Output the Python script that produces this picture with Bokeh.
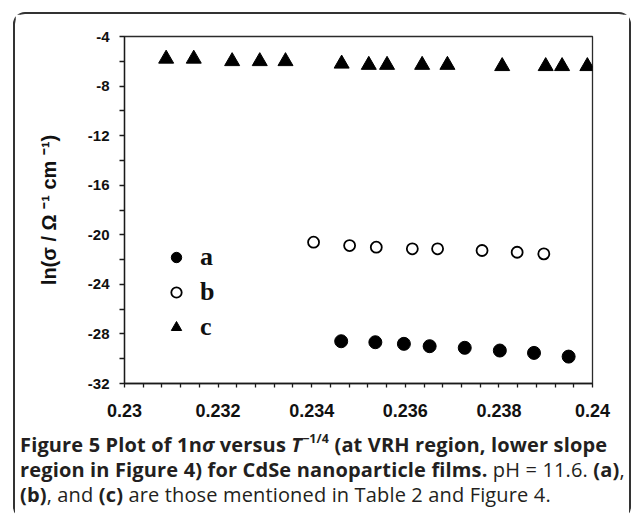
from bokeh.plotting import figure
from bokeh.layouts import column, row
from bokeh.models import (FixedTicker, Legend, LegendItem, Range1d, Spacer, Div)
from bokeh.embed import file_html
from bokeh.resources import INLINE

# ---------------- data ----------------
a_x = [0.23463, 0.23536, 0.23597, 0.23652, 0.23727, 0.23802, 0.23875, 0.23949]
a_y = [-28.59, -28.67, -28.80, -28.99, -29.12, -29.34, -29.53, -29.83]

b_x = [0.23404, 0.23481, 0.23538, 0.23615, 0.23669, 0.23764, 0.23839, 0.23896]
b_y = [-20.60, -20.87, -21.00, -21.13, -21.13, -21.27, -21.41, -21.54]

c_x = [0.23089, 0.23148, 0.23230, 0.23289, 0.23344, 0.23464, 0.23522, 0.23561,
       0.23636, 0.23690, 0.23807, 0.23900, 0.23935, 0.23989]
c_y = [-5.8, -5.8, -6.0, -6.0, -6.0, -6.2, -6.3, -6.3, -6.3, -6.3, -6.4, -6.4, -6.4, -6.4]

series_labels = ["a", "b", "c"]

x_ticks = [0.230, 0.232, 0.234, 0.236, 0.238, 0.240]
x_tick_labels = ["0.23", "0.232", "0.234", "0.236", "0.238", "0.24"]
x_minor_ticks = [0.2304, 0.2308, 0.2312, 0.2316, 0.2324, 0.2328, 0.2332, 0.2336,
                 0.2344, 0.2348, 0.2352, 0.2356, 0.2364, 0.2368, 0.2372, 0.2376,
                 0.2384, 0.2388, 0.2392, 0.2396]
y_ticks = [-32, -28, -24, -20, -16, -12, -8, -4]
y_tick_labels = ["-32", "-28", "-24", "-20", "-16", "-12", "-8", "-4"]
y_minor_ticks = [-30, -26, -22, -18, -14, -10, -6]

y_label = "ln(σ / Ω ⁻¹ cm ⁻¹)"

caption_lines = [
    [("Figure 5 Plot of 1n", "bold", False), ("σ", "bold italic", False), (" versus ", "bold", False),
     ("T", "bold italic", False), ("−1/4", "bold", True), (" (at VRH region, lower slope", "bold", False)],
    [("region in Figure 4) for CdSe nanoparticle films.", "bold", False), (" pH = 11.6. ", "normal", False),
     ("(a)", "bold", False), (",", "normal", False)],
    [("(b)", "bold", False), (", and ", "normal", False), ("(c)", "bold", False),
     (" are those mentioned in Table 2 and Figure 4.", "normal", False)],
]

# ---------------- main chart ----------------
W = 614
H_MAIN, H_CAP = 416, 87
p = figure(width=W, height=H_MAIN, x_range=Range1d(0.23, 0.24), y_range=Range1d(-32, -4),
           output_backend="svg", toolbar_location=None,
           min_border_left=109, min_border_right=37, min_border_top=22, min_border_bottom=47)
p.background_fill_color = "white"
p.border_fill_color = "white"
p.xgrid.visible = False
p.ygrid.visible = False
p.outline_line_color = "#2b2b2b"
p.outline_line_width = 1.3

ra = p.scatter(a_x, a_y, marker="circle", size=13, fill_color="black", line_color="black")
rb = p.scatter(b_x, b_y, marker="circle", size=11, fill_color="white", line_color="black", line_width=1.8)
rc = p.scatter(c_x, c_y, marker="triangle", size=15, fill_color="black", line_color="black")

xa = p.xaxis[0]
xa.ticker = FixedTicker(ticks=x_ticks, minor_ticks=x_minor_ticks)
xa.major_label_overrides = dict(zip(x_ticks, x_tick_labels))
xa.major_label_text_font = "Liberation Sans"
xa.major_label_text_font_style = "bold"
xa.major_label_text_font_size = "18px"
xa.major_label_text_color = "#111111"
xa.major_label_standoff = 16
xa.major_tick_out = 4
xa.major_tick_in = 0
xa.minor_tick_out = 4
xa.minor_tick_in = 0
xa.axis_line_color = "#1a1a1a"
xa.axis_line_width = 1.3
xa.major_tick_line_color = "#1a1a1a"
xa.minor_tick_line_color = "#1a1a1a"
xa.major_tick_line_width = 1.3
xa.minor_tick_line_width = 1.3

ya = p.yaxis[0]
ya.ticker = FixedTicker(ticks=y_ticks, minor_ticks=y_minor_ticks)
ya.major_label_overrides = dict(zip(y_ticks, y_tick_labels))
ya.major_label_text_font = "Liberation Sans"
ya.major_label_text_font_style = "bold"
ya.major_label_text_font_size = "15px"
ya.major_label_text_color = "#111111"
ya.major_label_standoff = 10
ya.major_tick_out = 5
ya.major_tick_in = 0
ya.minor_tick_out = 5
ya.minor_tick_in = 0
ya.axis_line_color = "#1a1a1a"
ya.axis_line_width = 1.3
ya.major_tick_line_color = "#1a1a1a"
ya.minor_tick_line_color = "#1a1a1a"
ya.major_tick_line_width = 1.3
ya.minor_tick_line_width = 1.3
ya.axis_label = y_label
ya.axis_label_text_font = "Liberation Sans"
ya.axis_label_text_font_style = "bold"
ya.axis_label_text_font_size = "20px"
ya.axis_label_text_color = "#111111"
ya.axis_label_standoff = 25

legend = Legend(items=[LegendItem(label=series_labels[0], renderers=[ra]),
                       LegendItem(label=series_labels[1], renderers=[rb]),
                       LegendItem(label=series_labels[2], renderers=[rc])],
                location=(39, 41), margin=0, padding=4, spacing=5,
                glyph_width=26, glyph_height=26, label_height=30, label_standoff=11,
                label_text_font="Liberation Serif", label_text_font_style="bold",
                label_text_font_size="26px", label_text_color="#111111",
                background_fill_color="white", background_fill_alpha=1.0,
                border_line_color=None)
p.add_layout(legend)

# ---------------- caption (HTML text below the chart) ----------------
CAP_FONT = "Open Sans"
cap_size = 20


def run_html(text, style, sup):
    t = text
    if sup:
        t = f'<sup style="font-size:62%;line-height:0;vertical-align:0.75em">{t}</sup>'
    if "italic" in style:
        t = f"<i>{t}</i>"
    if "bold" in style:
        t = f"<b>{t}</b>"
    return t


lines_html = ["".join(run_html(t, s, sup) for t, s, sup in line) for line in caption_lines]
cap_html = (f'<div style="font-family:\'{CAP_FONT}\';font-size:{cap_size}px;line-height:25px;'
            f'letter-spacing:0.15px;color:#231f20;white-space:pre;padding-left:5px;padding-top:2px;margin:0">'
            + "<br>".join(lines_html) + "</div>")
cap = Div(text=cap_html, width=W, height=H_CAP, styles={"background-color": "white", "margin": "0"})

box = column(p, cap, spacing=0,
             styles={"outline": "2px solid #333333", "border-radius": "10px"})
layout = row(Spacer(width=15, height=10), column(Spacer(width=10, height=14), box, spacing=0), spacing=0)

open("out.html", "w").write(file_html(layout, INLINE))
